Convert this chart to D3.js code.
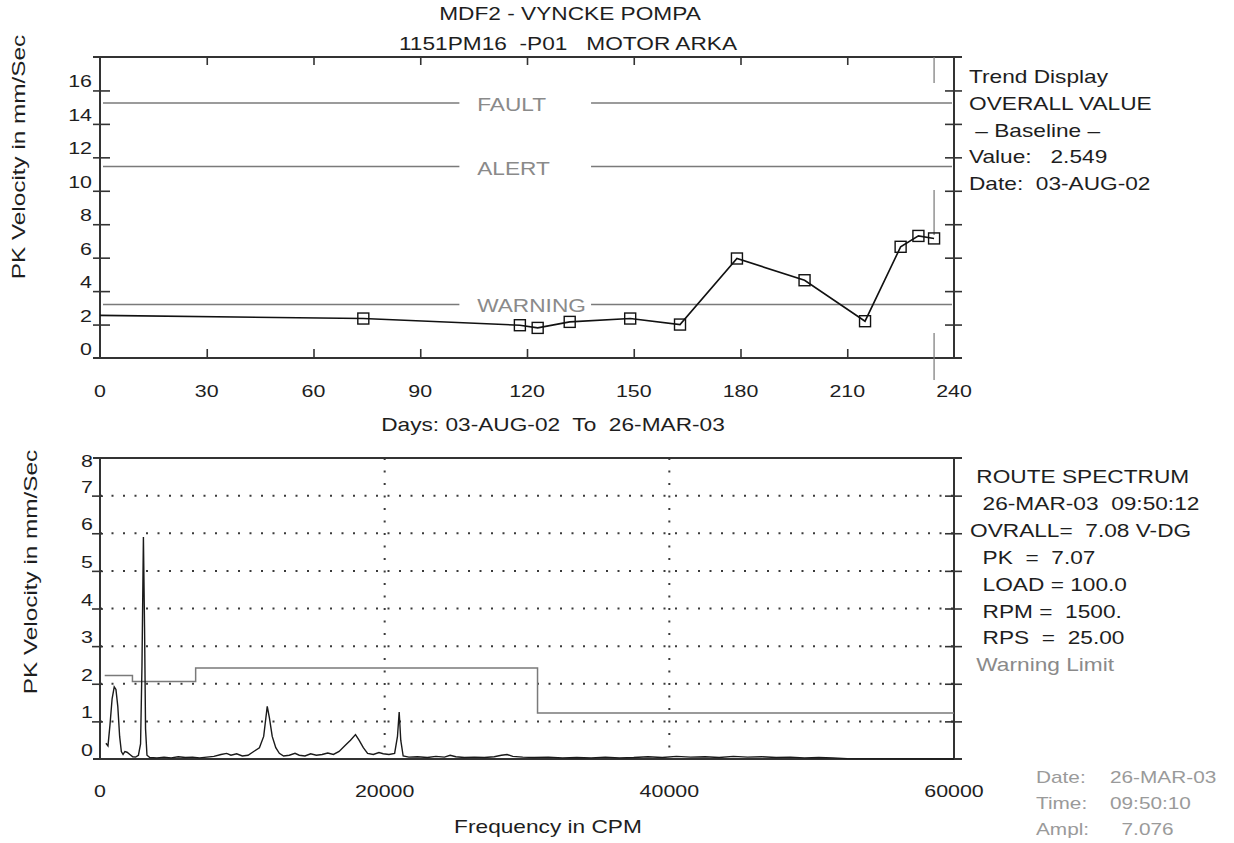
<!DOCTYPE html>
<html>
<head>
<meta charset="utf-8">
<script src="https://cdn.jsdelivr.net/npm/d3@7"></script>
<style>
html, body { margin: 0; padding: 0; background: #fff; }
svg text { font-family: "Liberation Sans", Arial, sans-serif; fill: #1e1e1e; white-space: pre; }
</style>
</head>
<body>
<div id="chart"></div>
<script>
// trend (overall value) history, days since 03-AUG-02
var trendDays   = [0,     74,   118,  123,  132,  149,  163,  179,  198,  215,  225,  230,  234.4];
var trendValues = [2.549, 2.36, 1.96, 1.80, 2.16, 2.36, 2.00, 5.95, 4.65, 2.20, 6.65, 7.30, 7.15];
var alarmNames  = ["FAULT", "ALERT", "WARNING"];
var alarmLevels = [15.25, 11.45, 3.2];
var trendXTicks = [0, 30, 60, 90, 120, 150, 180, 210, 240];
var trendYTicks = [0, 2, 4, 6, 8, 10, 12, 14, 16];

// route spectrum, CPM vs PK velocity
var specFreq = [415, 560, 700, 850, 1000, 1120, 1250, 1380, 1500, 1620, 1750, 1900, 2100, 2300, 2500, 2700,
  2850, 2950, 3050, 3130, 3200, 3300, 3500, 4000, 4500, 5000, 5500, 6000, 6500, 7000, 7500, 8000, 8500,
  8900, 9200, 9600, 10000, 10400, 10800, 11200, 11500, 11750, 11900, 12100, 12350, 12600, 12900, 13300,
  13700, 14000, 14400, 14800, 15200, 15600, 16000, 16400, 16800, 17200, 17600, 17950, 18200, 18500, 18800,
  19200, 19600, 19900, 20300, 20700, 20900, 21020, 21130, 21300, 21700, 22300, 23000, 23600, 24200, 24600,
  25000, 25600, 26300, 27000, 27700, 28200, 28600, 29000, 29700, 30500, 31500, 32500, 33500, 34500, 35500,
  36500, 37500, 38500, 39500, 40500, 41500, 42500, 43500, 44500, 45500, 46500, 47500, 48500, 49500, 50500,
  51500, 52500, 60000];
var specAmp = [0.42, 0.35, 0.9, 1.6, 1.92, 1.85, 1.4, 0.6, 0.2, 0.12, 0.2, 0.18, 0.12, 0.06, 0.05, 0.1,
  0.4, 2.5, 5.9, 3.5, 0.8, 0.1, 0.04, 0.03, 0.05, 0.03, 0.06, 0.04, 0.05, 0.03, 0.05, 0.07, 0.12,
  0.15, 0.1, 0.14, 0.08, 0.1, 0.2, 0.3, 0.6, 1.4, 1.1, 0.6, 0.3, 0.15, 0.08, 0.1,
  0.15, 0.1, 0.08, 0.14, 0.1, 0.12, 0.16, 0.12, 0.2, 0.35, 0.5, 0.65, 0.5, 0.3, 0.15,
  0.12, 0.17, 0.14, 0.12, 0.15, 0.6, 1.25, 0.5, 0.08, 0.05, 0.06, 0.04, 0.07, 0.05, 0.1,
  0.06, 0.04, 0.05, 0.04, 0.06, 0.1, 0.12, 0.07, 0.05, 0.04, 0.05, 0.03, 0.04, 0.03, 0.05,
  0.03, 0.04, 0.06, 0.04, 0.07, 0.05, 0.06, 0.04, 0.07, 0.05, 0.06, 0.04, 0.05, 0.03, 0.04,
  0.03, 0.01, 0.0];
var limitFreq = [330, 2280, 6720, 30740, 60000];
var limitAmp  = [2.22, 2.06, 2.42, 1.22, 1.22];
var specXTicks = [0, 20000, 40000, 60000];
var specYTicks = [0, 1, 2, 3, 4, 5, 6, 7, 8];

var titleLines = ["MDF2 - VYNCKE POMPA", "1151PM16  -P01   MOTOR ARKA"];
var trendInfo = ["Trend Display", "OVERALL VALUE", " \u2013 Baseline \u2013", "Value:   2.549", "Date:  03-AUG-02"];
var specInfo = [" ROUTE SPECTRUM", "  26-MAR-03  09:50:12", "OVRALL=  7.08 V-DG", "  PK  =  7.07",
  "  LOAD = 100.0", "  RPM =  1500.", "  RPS  =  25.00"];
var limitLabel = " Warning Limit";
var stampNames = ["Date:", "Time:", "Ampl:"];
var stampValues = ["26-MAR-03", "09:50:10", "  7.076"];

var W = 1234, H = 843;
var grey = "#8a8a8a";

var svg = d3.select("#chart").append("svg")
  .attr("width", W)
  .attr("height", H);

// the printout font is wide, so stretch each text along its baseline
function label(parent, str, x, y, opt) {
  opt = opt || {};
  var t = parent.append("text")
    .attr("transform", "translate(" + x + "," + y + ")" +
      (opt.rotate ? " rotate(" + opt.rotate + ")" : "") +
      " scale(" + (opt.sx || 1.26) + ",1)")
    .attr("text-anchor", opt.anchor || "start")
    .style("font-size", (opt.size || 18) + "px")
    .text(str);
  if (opt.fill) t.style("fill", opt.fill);
  return t;
}

function frame(g, x, y) {
  var x0 = x.range()[0], x1 = x.range()[1], y0 = y.range()[0], y1 = y.range()[1];
  var lines = [[x0 - 7, y1, x1 + 8, y1], [x0 - 7, y0, x1 + 8, y0], [x0, y1, x0, y0], [x1, y1, x1, y0]];
  g.selectAll(".frame").data(lines).enter().append("line")
    .attr("x1", function (d) { return d[0]; })
    .attr("y1", function (d) { return d[1]; })
    .attr("x2", function (d) { return d[2]; })
    .attr("y2", function (d) { return d[3]; })
    .style("stroke", "#333").style("stroke-width", 2);
}

function ticks(g, axis, tx, ty, back) {
  var a = g.append("g")
    .attr("transform", "translate(" + tx + "," + ty + ")")
    .style("color", "#333")
    .call(axis);
  a.select(".domain").remove();
  a.selectAll(".tick line").style("stroke-width", 1.6);
  if (back) a.selectAll(".tick line").attr(back[0], back[1]);
  return a;
}

// ---------- titles ----------
label(svg, titleLines[0], 570, 20, {anchor: "middle"});
label(svg, titleLines[1], 568, 50, {anchor: "middle"});

// ---------- trend display ----------
var tx = d3.scaleLinear().domain([0, 240]).range([100, 954]);
var ty = d3.scaleLinear().domain([0, 18]).range([358, 57]);
var trend = svg.append("g");

alarmLevels.forEach(function (lvl, i) {
  var yy = ty(lvl);
  [[tx(0) + 3, tx(101)], [tx(138), tx(240) - 2]].forEach(function (seg) {
    trend.append("line")
      .attr("x1", seg[0]).attr("x2", seg[1]).attr("y1", yy).attr("y2", yy)
      .style("stroke", "#7a7a7a").style("stroke-width", 1.5);
  });
  label(trend, alarmNames[i], tx(106), yy + 8, {fill: grey});
});

frame(trend, tx, ty);
ticks(trend, d3.axisLeft(ty).tickValues(trendYTicks.slice(1)).tickSize(7).tickFormat(""), tx(0), 0, ["x1", 10]);
ticks(trend, d3.axisRight(ty).tickValues(trendYTicks.slice(1)).tickSize(8).tickFormat(""), tx(240), 0, ["x1", -9]);
ticks(trend, d3.axisTop(tx).tickValues(trendXTicks.slice(1, -1)).tickSize(9).tickFormat(""), 0, ty(0));
ticks(trend, d3.axisBottom(tx).tickValues(trendXTicks.slice(1, -1)).tickSize(8).tickFormat(""), 0, ty(18));

trendYTicks.forEach(function (v) {
  label(trend, String(v), tx(0) - 8, ty(v) - 3, {anchor: "end", size: 17});
});
trendXTicks.forEach(function (v) {
  label(trend, String(v), tx(v), 397, {anchor: "middle", size: 17});
});

// cursor at the latest reading
var lastDay = trendDays[trendDays.length - 1];
trend.append("line")
  .attr("x1", tx(lastDay)).attr("x2", tx(lastDay))
  .attr("y1", ty(18)).attr("y2", ty(0) + 22)
  .style("stroke", "#777").style("stroke-width", 1.2)
  .style("stroke-dasharray", "26,107,45,98,47");

var trendPts = trendDays.map(function (d, i) { return [d, trendValues[i]]; });
trend.append("path")
  .datum(trendPts)
  .attr("d", d3.line().x(function (d) { return tx(d[0]); }).y(function (d) { return ty(d[1]); }))
  .style("fill", "none").style("stroke", "#111").style("stroke-width", 1.6);

trend.selectAll(".pt").data(trendPts.slice(1)).enter().append("rect")
  .attr("x", function (d) { return tx(d[0]) - 5.5; })
  .attr("y", function (d) { return ty(d[1]) - 5.5; })
  .attr("width", 11).attr("height", 11)
  .style("fill", "none").style("stroke", "#111").style("stroke-width", 1.4);

label(svg, "PK Velocity in mm/Sec", 25, 157, {rotate: -90, anchor: "middle", sx: 1.35});
label(svg, "Days: 03-AUG-02  To  26-MAR-03", 553, 431, {anchor: "middle"});

trendInfo.forEach(function (s, i) {
  label(svg, s, 969, 83 + i * 26.8);
});

// ---------- route spectrum ----------
var sx = d3.scaleLinear().domain([0, 60000]).range([100, 954]);
var sy = d3.scaleLinear().domain([0, 8]).range([759, 458]);
var spec = svg.append("g");

specYTicks.slice(1, -1).forEach(function (v) {
  spec.append("line")
    .attr("x1", sx(0)).attr("x2", sx(60000)).attr("y1", sy(v)).attr("y2", sy(v))
    .style("stroke", "#3a3a3a").style("stroke-width", 2)
    .style("stroke-dasharray", "2,9.5");
});
specXTicks.slice(1, -1).forEach(function (v) {
  spec.append("line")
    .attr("x1", sx(v)).attr("x2", sx(v)).attr("y1", sy(8)).attr("y2", sy(0))
    .style("stroke", "#3a3a3a").style("stroke-width", 2)
    .style("stroke-dasharray", "2,10.5");
});

frame(spec, sx, sy);
ticks(spec, d3.axisLeft(sy).tickValues(specYTicks.slice(1, -1)).tickSize(8).tickFormat(""), sx(0), 0, ["x1", 3]);
ticks(spec, d3.axisRight(sy).tickValues(specYTicks.slice(1, -1)).tickSize(8).tickFormat(""), sx(60000), 0, ["x1", -9]);

specYTicks.forEach(function (v) {
  label(spec, String(v), sx(0) - 7, Math.max(sy(v) - 3, sy(8) + 9), {anchor: "end", size: 17});
});
specXTicks.forEach(function (v) {
  label(spec, String(v), sx(v), 797, {anchor: "middle", size: 17});
});

var limitPts = limitFreq.map(function (f, i) { return [f, limitAmp[i]]; });
spec.append("path")
  .datum(limitPts)
  .attr("d", d3.line().curve(d3.curveStepAfter)
    .x(function (d) { return sx(d[0]); }).y(function (d) { return sy(d[1]); }))
  .style("fill", "none").style("stroke", "#7a7a7a").style("stroke-width", 1.5);

var specPts = specFreq.map(function (f, i) { return [f, specAmp[i]]; });
spec.append("path")
  .datum(specPts)
  .attr("d", d3.line().x(function (d) { return sx(d[0]); }).y(function (d) { return sy(d[1]); }))
  .style("fill", "none").style("stroke", "#1a1a1a").style("stroke-width", 1.4);

label(svg, "PK Velocity in mm/Sec", 37, 572, {rotate: -90, anchor: "middle", sx: 1.35});
label(svg, "Frequency in CPM", 548, 833, {anchor: "middle"});

specInfo.forEach(function (s, i) {
  label(svg, s, 970, 483 + i * 26.9);
});
label(svg, limitLabel, 970, 483 + specInfo.length * 26.9, {fill: grey});

stampNames.forEach(function (s, i) {
  label(svg, s, 1036, 783 + i * 26, {size: 16, sx: 1.3, fill: "#9a9a9a"});
  label(svg, stampValues[i], 1110, 783 + i * 26, {size: 16, sx: 1.3, fill: "#9a9a9a"});
});
</script>
</body>
</html>
